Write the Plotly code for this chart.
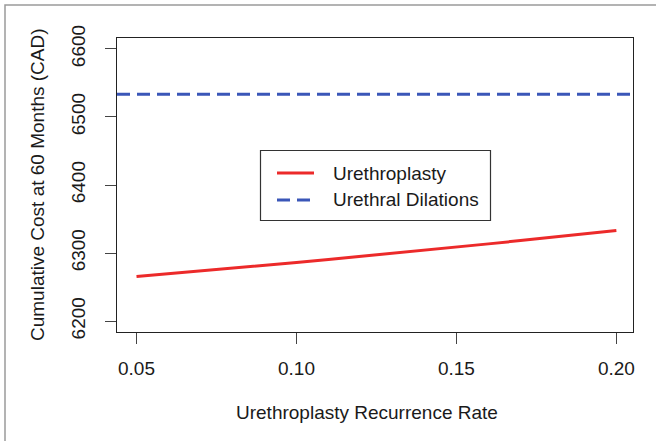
import plotly.graph_objects as go

# ---- data ----
recurrence_rate = [0.05, 0.06, 0.07, 0.08, 0.09, 0.10, 0.11, 0.12,
                   0.13, 0.14, 0.15, 0.16, 0.17, 0.18, 0.19, 0.20]
urethroplasty_cost = [6265.5, 6269.5, 6273.6, 6277.7, 6281.9, 6286.2, 6290.6, 6295.0,
                      6299.5, 6304.1, 6308.8, 6313.5, 6318.3, 6323.2, 6328.2, 6333.0]
dilation_cost = 6533.5
x_ticks = [0.05, 0.10, 0.15, 0.20]
x_tick_labels = ["0.05", "0.10", "0.15", "0.20"]
y_ticks = [6200, 6300, 6400, 6500, 6600]
y_tick_labels = ["6200", "6300", "6400", "6500", "6600"]
x_range = [0.0439, 0.2052]
y_range = [6184, 6616]

RED = "#ec2a2a"
BLUE = "#3a56b8"
FONT = "Liberation Sans, Arial, sans-serif"

W, H = 656, 441
L, R, T, B = 117, 23, 38, 109
PW, PH = W - L - R, H - T - B


def px(x):
    return (x - L) / PW


def py(y):
    return (H - B - y) / PH


fig = go.Figure()
fig.add_trace(go.Scatter(x=recurrence_rate, y=urethroplasty_cost, mode="lines",
                         line=dict(color=RED, width=3), name="Urethroplasty",
                         showlegend=False))
fig.add_trace(go.Scatter(x=x_range, y=[dilation_cost, dilation_cost], mode="lines",
                         line=dict(color=BLUE, width=3, dash="13px,7px"),
                         name="Urethral Dilations", showlegend=False))

axis_common = dict(showgrid=False, zeroline=False, showline=True, mirror=True,
                   linecolor="#222222", linewidth=1.2, ticks="outside", ticklen=11,
                   tickcolor="#444444", tickwidth=1.2,
                   tickfont=dict(family=FONT, size=19, color="#1a1a1a"))
fig.update_xaxes(range=x_range, tickvals=x_ticks, ticktext=x_tick_labels,
                 ticklabelstandoff=8, **axis_common)
fig.update_yaxes(range=y_range, tickvals=y_ticks, ticktext=y_tick_labels,
                 tickangle=-90, ticklabelstandoff=12, **axis_common)

shapes = [
    # outer figure frame
    dict(type="rect", xref="paper", yref="paper", x0=px(5), x1=px(700), y0=py(470), y1=py(5),
         line=dict(color="#9a9a9a", width=1.5), layer="below"),
    # legend box
    dict(type="rect", xref="paper", yref="paper", x0=px(260.5), x1=px(490.5), y0=py(220.5), y1=py(150.5),
         line=dict(color="#333333", width=1.2), fillcolor="white"),
    dict(type="line", xref="paper", yref="paper", x0=px(277), x1=px(314), y0=py(173), y1=py(173),
         line=dict(color=RED, width=3)),
    dict(type="line", xref="paper", yref="paper", x0=px(277), x1=px(314), y0=py(200), y1=py(200),
         line=dict(color=BLUE, width=3, dash="13px,7px")),
]
annotations = [
    dict(text="Urethroplasty", xref="paper", yref="paper", x=px(331), y=py(173),
         xanchor="left", yanchor="middle", showarrow=False,
         font=dict(family=FONT, size=19, color="#1a1a1a")),
    dict(text="Urethral Dilations", xref="paper", yref="paper", x=px(331), y=py(199),
         xanchor="left", yanchor="middle", showarrow=False,
         font=dict(family=FONT, size=19, color="#1a1a1a")),
    dict(text="Urethroplasty Recurrence Rate", xref="paper", yref="paper", x=px(367), y=py(412),
         xanchor="center", yanchor="middle", showarrow=False,
         font=dict(family=FONT, size=19, color="#1a1a1a")),
    dict(text="Cumulative Cost at 60 Months (CAD)", xref="paper", yref="paper", x=px(37), y=0.5,
         xanchor="center", yanchor="middle", showarrow=False, textangle=-90,
         font=dict(family=FONT, size=19, color="#1a1a1a")),
]

fig.update_layout(width=W, height=H, margin=dict(l=L, r=R, t=T, b=B),
                  plot_bgcolor="white", paper_bgcolor="white",
                  shapes=shapes, annotations=annotations, showlegend=False)

fig.write_html("out.html")
